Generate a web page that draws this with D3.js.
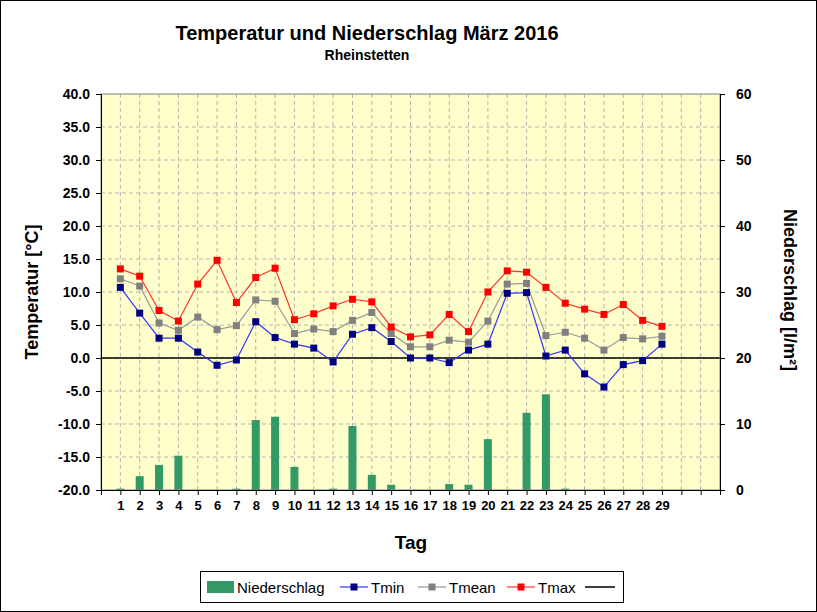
<!DOCTYPE html>
<html><head><meta charset="utf-8">
<script src="https://cdn.jsdelivr.net/npm/d3@7"></script>
<style>body{margin:0;background:#fff}text{font-family:Arial,"Liberation Sans",sans-serif}</style>
</head><body><svg id="c" width="817" height="612"></svg>
<script>
const days = d3.range(1, 32);
const tickDays = d3.range(1, 30);
const niederschlag = [0.2,2.1,3.8,5.2,0,0,0.2,10.6,11.1,3.5,0,0.2,9.7,2.3,0.8,0,0,0.9,0.8,7.7,0,11.7,14.5,0.2,0,0,0,0,0,0,0];
const tmin = [10.7,6.8,3.0,3.0,0.9,-1.1,-0.3,5.5,3.1,2.1,1.5,-0.6,3.6,4.6,2.5,0.0,0.0,-0.7,1.2,2.1,9.8,9.9,0.3,1.2,-2.4,-4.4,-1.0,-0.4,2.1];
const tmean = [12.0,10.9,5.3,4.2,6.2,4.3,4.9,8.8,8.6,3.7,4.4,4.0,5.7,6.9,3.7,1.7,1.7,2.7,2.4,5.6,11.2,11.3,3.4,3.9,3.0,1.2,3.1,2.9,3.3];
const tmax = [13.5,12.4,7.2,5.6,11.2,14.8,8.4,12.2,13.6,5.8,6.7,7.9,8.9,8.5,4.7,3.2,3.5,6.6,4.0,10.0,13.2,13.0,10.7,8.3,7.4,6.6,8.1,5.7,4.8];
const tempTicks = d3.range(-20, 40.01, 5);
const rainTicks = d3.range(0, 60.01, 10);

const svg = d3.select("#c");
svg.append("rect").attr("x",0.5).attr("y",0.5).attr("width",816).attr("height",611).attr("fill","#fff").attr("stroke","#000");

const L = 101, R = 720, T = 94, B = 490;
const x = d3.scalePoint().domain(days).range([L, R]).padding(1);
const y = d3.scaleLinear().domain([-20, 40]).range([B, T]);
const y2 = d3.scaleLinear().domain([0, 60]).range([B, T]);

svg.append("rect").attr("x",L).attr("y",T).attr("width",R-L).attr("height",B-T).attr("fill","#ffffcc");

// grid
svg.append("g").selectAll("line").data(days).join("line")
  .attr("x1",d=>x(d)).attr("x2",d=>x(d)).attr("y1",T).attr("y2",B)
  .attr("stroke","#b4b4b4").attr("stroke-dasharray","4,3");
svg.append("g").selectAll("line").data(tempTicks.slice(1,-1)).join("line")
  .attr("x1",L).attr("x2",R).attr("y1",d=>y(d)).attr("y2",d=>y(d))
  .attr("stroke","#b4b4b4").attr("stroke-dasharray","4,3");

// bars
svg.append("g").selectAll("rect").data(niederschlag).join("rect")
  .attr("x",(d,i)=>x(days[i])-4).attr("width",8)
  .attr("y",d=>y2(d)).attr("height",d=>B-y2(d)).attr("fill","#339966");

svg.append("line").attr("x1",L).attr("x2",R).attr("y1",y(0)).attr("y2",y(0)).attr("stroke","#000").attr("stroke-width",1.5);

function series(data, col, lineCol){
  const line = d3.line().x((d,i)=>x(days[i])).y(d=>y(d));
  svg.append("path").datum(data).attr("d",line).attr("fill","none").attr("stroke",lineCol).attr("stroke-width",1.2);
  svg.append("g").selectAll("rect").data(data).join("rect")
    .attr("x",(d,i)=>x(days[i])-3.5).attr("y",d=>y(d)-3.5).attr("width",7).attr("height",7).attr("fill",col);
}
series(tmean, "#808080", "#999999");
series(tmin, "#000080", "#3333ff");
series(tmax, "#ff0000", "#ff3333");

svg.append("rect").attr("x",L).attr("y",T).attr("width",R-L).attr("height",B-T).attr("fill","none").attr("stroke","#808080");

// axes
const ax = svg.append("g").attr("transform",`translate(0,${B})`)
  .call(d3.axisBottom(x).tickValues(days).tickSize(5).tickFormat(d=>tickDays.includes(d)?d:""));
ax.select(".domain").attr("stroke","#000");
ax.selectAll("text").attr("font-size",13).attr("font-weight","bold").attr("dy","0.95em").attr("fill","#000");
const ay = svg.append("g").attr("transform",`translate(${L},0)`)
  .call(d3.axisLeft(y).tickValues(tempTicks).tickSize(5).tickFormat(d=>d3.format(".1f")(d).replace("−","-")));
ay.selectAll("text").attr("font-size",14).attr("font-weight","bold").attr("fill","#000").attr("dx","-3");
const ay2 = svg.append("g").attr("transform",`translate(${R},0)`)
  .call(d3.axisRight(y2).tickValues(rainTicks).tickSize(5));
ay2.selectAll("text").attr("font-size",14).attr("font-weight","bold").attr("fill","#000").attr("dx","8");

// titles
svg.append("text").attr("x",367).attr("y",40).attr("text-anchor","middle").attr("font-size",20).attr("font-weight","bold").text("Temperatur und Niederschlag März 2016");
svg.append("text").attr("x",367).attr("y",60).attr("text-anchor","middle").attr("font-size",14).attr("font-weight","bold").text("Rheinstetten");
svg.append("text").attr("transform","translate(38,292) rotate(-90)").attr("text-anchor","middle").attr("font-size",18).attr("font-weight","bold").text("Temperatur [°C]");
svg.append("text").attr("transform","translate(784,290) rotate(90)").attr("text-anchor","middle").attr("font-size",18).attr("font-weight","bold").text("Niederschlag [l/m²]");
svg.append("text").attr("x",411).attr("y",549).attr("text-anchor","middle").attr("font-size",19).attr("font-weight","bold").text("Tag");

// legend
const lg = svg.append("g");
lg.append("rect").attr("x",200.5).attr("y",571.5).attr("width",423).attr("height",31).attr("fill","#fff").attr("stroke","#000");
lg.append("rect").attr("x",207).attr("y",581).attr("width",27).attr("height",12).attr("fill","#339966");
lg.append("text").attr("x",237).attr("y",593).attr("font-size",15).text("Niederschlag");
const items = [["Tmin","#000080","#3333ff",340],["Tmean","#808080","#999999",418],["Tmax","#ff0000","#ff3333",507]];
items.forEach(([n,c,lc,x0])=>{
  lg.append("line").attr("x1",x0).attr("x2",x0+28).attr("y1",587).attr("y2",587).attr("stroke",lc).attr("stroke-width",1.2);
  lg.append("rect").attr("x",x0+10.5).attr("y",583.5).attr("width",7).attr("height",7).attr("fill",c);
  lg.append("text").attr("x",x0+31).attr("y",593).attr("font-size",15).text(n);
});
lg.append("line").attr("x1",585).attr("x2",615).attr("y1",587).attr("y2",587).attr("stroke","#000").attr("stroke-width",1.5);
</script></body></html>
